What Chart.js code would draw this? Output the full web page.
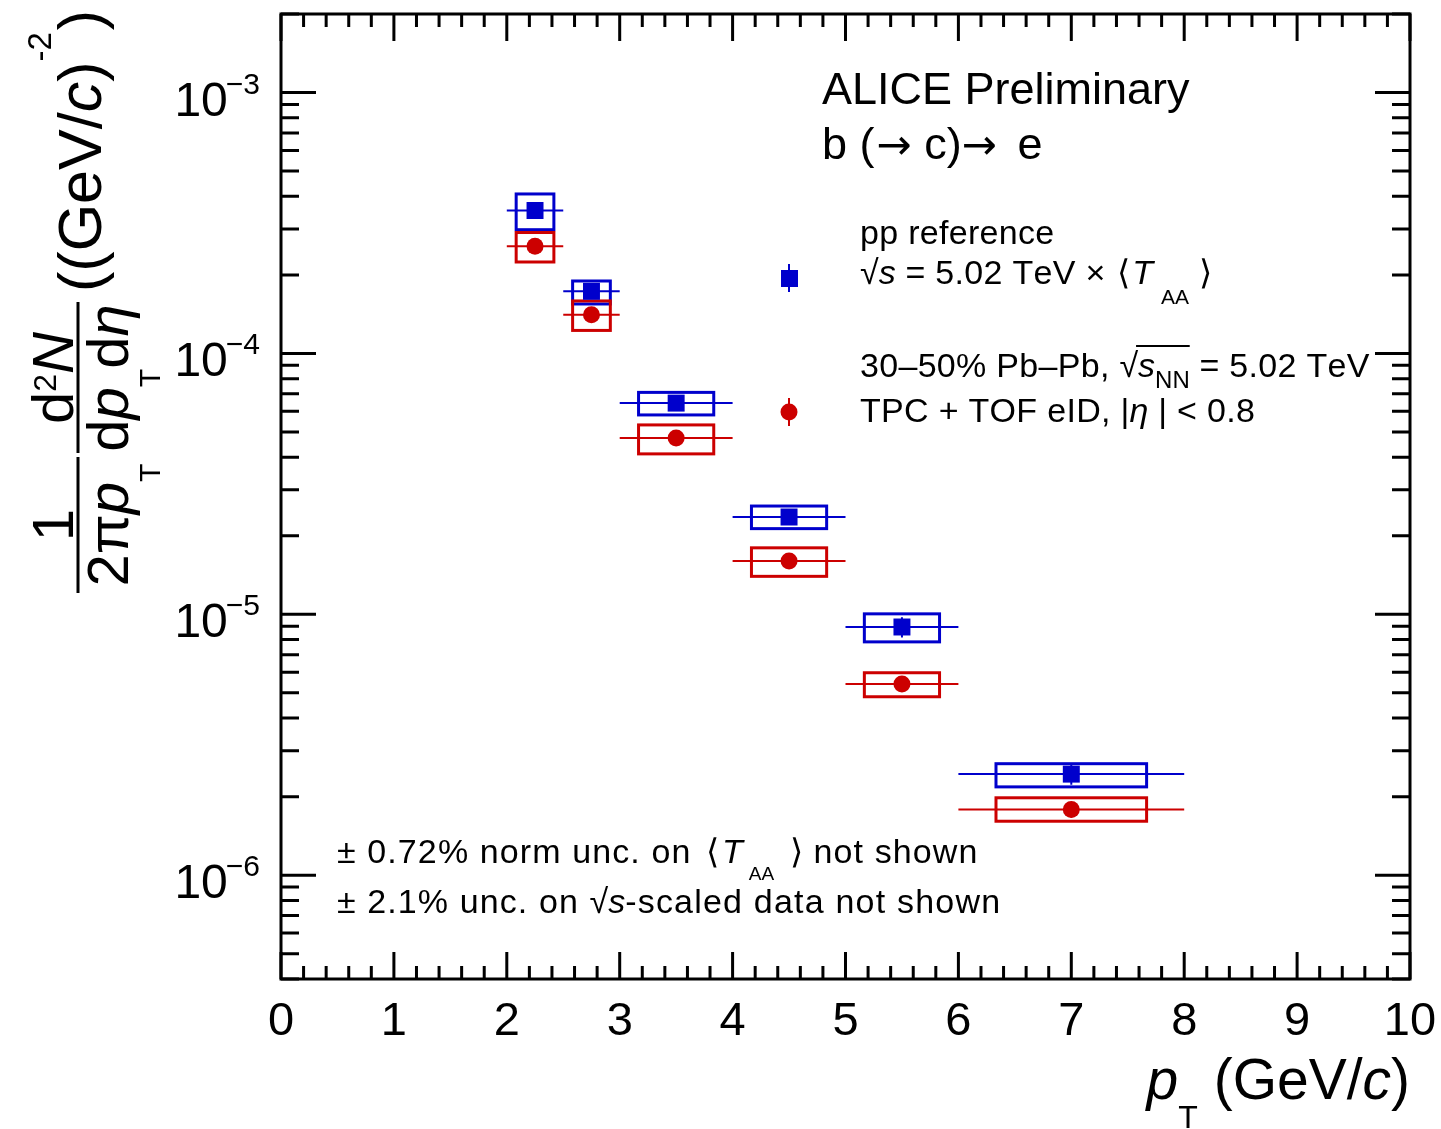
<!DOCTYPE html>
<html>
<head>
<meta charset="utf-8">
<script src="https://cdn.jsdelivr.net/npm/chart.js@4.4.0/dist/chart.umd.min.js"></script>
<style>
  html, body { margin: 0; padding: 0; background: #fff; }
  #wrap { width: 1441px; height: 1129px; }
</style>
</head>
<body>
<div id="wrap"><canvas id="spectrum" width="1441" height="1129"></canvas></div>
<script>
// pT bins (GeV/c)
const ptCenters = [2.25, 2.75, 3.5, 4.5, 5.5, 7];
const ptLow = [2, 2.5, 3, 4, 5, 6];
const ptHigh = [2.5, 3, 4, 5, 6, 8];
// half width of the systematic boxes (GeV/c)
const sysHalfWidth = [0.167, 0.167, 0.333, 0.333, 0.333, 0.667];

// pp reference scaled by <TAA>
const ppYield = [3.53e-4, 1.73e-4, 6.45e-5, 2.36e-5, 8.94e-6, 2.44e-6];
const ppStat = [1.1e-5, 5.0e-6, 2.6e-6, 1.2e-6, 0.8e-6, 0.22e-6];
const ppSysLow = [2.98e-4, 1.547e-4, 5.81e-5, 2.13e-5, 7.84e-6, 2.18e-6];
const ppSysHigh = [4.085e-4, 1.895e-4, 7.09e-5, 2.60e-5, 1.004e-5, 2.675e-6];

// 30-50% Pb-Pb
const pbpbYield = [2.577e-4, 1.407e-4, 4.74e-5, 1.60e-5, 5.41e-6, 1.785e-6];
const pbpbStat = [1.0e-5, 5.6e-6, 2.4e-6, 0.8e-6, 0.32e-6, 0.12e-6];
const pbpbSysLow = [2.241e-4, 1.225e-4, 4.12e-5, 1.398e-5, 4.83e-6, 1.61e-6];
const pbpbSysHigh = [2.907e-4, 1.589e-4, 5.32e-5, 1.798e-5, 5.97e-6, 1.98e-6];

// axis ticks
const xTickLabels = ['0', '1', '2', '3', '4', '5', '6', '7', '8', '9', '10'];
const yTickExponents = [-3, -4, -5, -6];

const BLUE = '#0000cc';
const RED = '#cc0000';
const FONT = '"Liberation Sans", Arial, Helvetica, sans-serif';
const ARROW_FONT = '"DejaVu Sans", sans-serif';

function font(size, italic, fam) {
  return (italic ? 'italic ' : '') + size + 'px ' + (fam || FONT);
}

// width of one text piece, with optional extra letter spacing
function pieceWidth(ctx, p) {
  ctx.font = font(p.s, p.it, p.fam);
  const ls = p.ls || 0;
  if (!ls) return ctx.measureText(p.t).width + (p.dx || 0);
  let w = 0;
  for (const ch of p.t) w += ctx.measureText(ch).width + ls;
  return w + (p.dx || 0);
}

// draws a run of text pieces: {t, s, it, dy, dx, ls, fam, over}
function rich(ctx, x, y, parts, align) {
  const widths = parts.map(p => pieceWidth(ctx, p));
  const total = widths.reduce((a, b) => a + b, 0);
  let cx = align === 'right' ? x - total : align === 'center' ? x - total / 2 : x;
  let overStart = null, overEnd = null, overY = null;
  parts.forEach((p, i) => {
    ctx.font = font(p.s, p.it, p.fam);
    const x0 = cx + (p.dx || 0);
    if (p.ls) {
      let px = x0;
      for (const ch of p.t) {
        ctx.fillText(ch, px, y + (p.dy || 0));
        px += ctx.measureText(ch).width + p.ls;
      }
    } else {
      ctx.fillText(p.t, x0, y + (p.dy || 0));
    }
    if (p.over) {
      if (overStart === null) overStart = x0;
      overEnd = cx + widths[i];
      overY = y - p.over;
    }
    cx += widths[i];
  });
  if (overStart !== null) {
    ctx.save();
    ctx.lineWidth = 2;
    ctx.beginPath();
    ctx.moveTo(overStart - 2, overY);
    ctx.lineTo(overEnd, overY);
    ctx.stroke();
    ctx.restore();
  }
  return total;
}

function buildPoints(ys) {
  return ptCenters.map((x, i) => ({ x: x, y: ys[i] }));
}

// systematic boxes and statistical bars
const errorBars = {
  id: 'errorBars',
  beforeDatasetsDraw(chart) {
    const { ctx, chartArea: a, scales: { x, y } } = chart;
    const sets = [
      { yv: ppYield, st: ppStat, lo: ppSysLow, hi: ppSysHigh, c: BLUE },
      { yv: pbpbYield, st: pbpbStat, lo: pbpbSysLow, hi: pbpbSysHigh, c: RED }
    ];
    ctx.save();
    ctx.beginPath();
    ctx.rect(a.left, a.top, a.right - a.left, a.bottom - a.top);
    ctx.clip();
    for (const s of sets) {
      ctx.strokeStyle = s.c;
      for (let i = 0; i < ptCenters.length; i++) {
        const x0 = x.getPixelForValue(ptCenters[i] - sysHalfWidth[i]);
        const x1 = x.getPixelForValue(ptCenters[i] + sysHalfWidth[i]);
        const yTop = y.getPixelForValue(s.hi[i]);
        const yBot = y.getPixelForValue(s.lo[i]);
        ctx.lineWidth = 3;
        ctx.strokeRect(x0, yTop, x1 - x0, yBot - yTop);

        const xc = x.getPixelForValue(ptCenters[i]);
        const yc = y.getPixelForValue(s.yv[i]);
        ctx.lineWidth = 2;
        ctx.beginPath();
        ctx.moveTo(x.getPixelForValue(ptLow[i]), yc);
        ctx.lineTo(x.getPixelForValue(ptHigh[i]), yc);
        ctx.moveTo(xc, y.getPixelForValue(s.yv[i] + s.st[i]));
        ctx.lineTo(xc, y.getPixelForValue(s.yv[i] - s.st[i]));
        ctx.stroke();
      }
    }
    ctx.restore();
  }
};

// frame, inward ticks and tick labels
const frame = {
  id: 'frame',
  afterDraw(chart) {
    const { ctx, chartArea: a, scales: { x, y } } = chart;
    ctx.save();
    ctx.strokeStyle = '#000';
    ctx.fillStyle = '#000';
    ctx.lineWidth = 3;
    ctx.beginPath();
    for (let i = 0; i <= 50; i++) {
      const px = x.getPixelForValue(i / 5);
      const len = i % 5 === 0 ? 27 : 13;
      ctx.moveTo(px, a.bottom); ctx.lineTo(px, a.bottom - len);
      ctx.moveTo(px, a.top); ctx.lineTo(px, a.top + len);
    }
    for (let e = -7; e <= -3; e++) {
      for (let m = 1; m <= 9; m++) {
        const v = m * Math.pow(10, e);
        if (v < y.min * 0.999 || v > y.max * 1.001) continue;
        const py = y.getPixelForValue(v);
        const len = m === 1 ? 35 : 18;
        ctx.moveTo(a.left, py); ctx.lineTo(a.left + len, py);
        ctx.moveTo(a.right, py); ctx.lineTo(a.right - len, py);
      }
    }
    ctx.stroke();
    ctx.strokeRect(a.left, a.top, a.right - a.left, a.bottom - a.top);

    // x tick labels
    ctx.textAlign = 'center';
    ctx.textBaseline = 'alphabetic';
    ctx.font = font(47);
    xTickLabels.forEach((t, i) => {
      ctx.fillText(t, x.getPixelForValue(i), 1035);
    });

    // y tick labels 10^n
    ctx.textAlign = 'left';
    yTickExponents.forEach(e => {
      const py = y.getPixelForValue(Math.pow(10, e));
      ctx.font = font(30);
      const sup = '\u2212' + (-e);
      const sw = ctx.measureText(sup).width;
      ctx.fillText(sup, 260 - sw, py + 1);
      ctx.font = font(48);
      const bw = ctx.measureText('10').width;
      ctx.fillText('10', 260 - sw - bw + 2, py + 23);
    });
    ctx.restore();
  }
};

// axis titles, labels and legend
const annotations = {
  id: 'annotations',
  afterDraw(chart) {
    const { ctx } = chart;
    ctx.save();
    ctx.fillStyle = '#000';
    ctx.strokeStyle = '#000';
    ctx.textAlign = 'left';
    ctx.textBaseline = 'alphabetic';

    // x title
    rich(ctx, 1410, 1099, [
      { t: 'p', s: 57, it: true },
      { t: 'T', s: 32, dy: 29 },
      { t: ' (GeV/', s: 57 },
      { t: 'c', s: 57, it: true },
      { t: ')', s: 57 }
    ], 'right');

    // y title, rotated; local (u, w) -> page (w, -u)
    ctx.save();
    ctx.rotate(-Math.PI / 2);
    ctx.fillRect(-593, 76.5, 136, 3);
    rich(ctx, -525, 73, [{ t: '1', s: 58 }], 'center');
    rich(ctx, -525, 128, [
      { t: '2\u03c0', s: 58 },
      { t: 'p', s: 58, it: true },
      { t: 'T', s: 30, dy: 32 }
    ], 'center');
    ctx.fillRect(-453, 76.5, 151, 3);
    rich(ctx, -378, 73, [
      { t: 'd', s: 58 },
      { t: '2', s: 32, dy: -17 },
      { t: 'N', s: 58, it: true }
    ], 'center');
    rich(ctx, -378, 128, [
      { t: 'd', s: 58 },
      { t: 'p', s: 58, it: true },
      { t: 'T', s: 30, dy: 32 },
      { t: 'd', s: 58 },
      { t: '\u03b7', s: 58, it: true }
    ], 'center');
    rich(ctx, -292, 101, [
      { t: '((GeV/', s: 61 },
      { t: 'c', s: 61, it: true },
      { t: ')', s: 61 },
      { t: '-2', s: 33, dy: -50 },
      { t: ')', s: 61, dx: 2 }
    ]);
    ctx.restore();

    // header
    rich(ctx, 822, 104, [{ t: 'ALICE Preliminary', s: 45 }]);
    rich(ctx, 822, 159, [
      { t: 'b (', s: 45 },
      { t: '\u2192', s: 42, fam: ARROW_FONT, dx: 2 },
      { t: ' c)', s: 45 },
      { t: '\u2192', s: 42, fam: ARROW_FONT },
      { t: ' e', s: 45, dx: 8 }
    ]);

    // legend entries
    rich(ctx, 860, 244, [{ t: 'pp reference', s: 34, ls: 0.3 }]);
    rich(ctx, 860, 284, [
      { t: '\u221a', s: 34 },
      { t: 's', s: 34, it: true },
      { t: ' = 5.02 TeV \u00d7 ', s: 34, ls: 0.3 },
      { t: '\u27e8', s: 34, dx: 2 },
      { t: 'T', s: 34, it: true, dx: 2 },
      { t: 'AA', s: 21, dy: 20, dx: 8 },
      { t: '\u27e9', s: 34, dx: 10 }
    ]);
    rich(ctx, 860, 377, [
      { t: '30\u201350% Pb\u2013Pb, ', s: 34, ls: 0.3 },
      { t: '\u221a', s: 34 },
      { t: 's', s: 34, it: true, over: 31 },
      { t: 'NN', s: 24, dy: 11, over: 31 },
      { t: ' = 5.02 TeV', s: 34, ls: 0.3 }
    ]);
    rich(ctx, 860, 422, [
      { t: 'TPC + TOF eID, |', s: 34, ls: 0.3 },
      { t: '\u03b7', s: 34, it: true },
      { t: ' | < 0.8', s: 34, ls: 0.3 }
    ]);

    // legend markers with stat bars
    ctx.lineWidth = 2;
    ctx.strokeStyle = BLUE;
    ctx.fillStyle = BLUE;
    ctx.beginPath(); ctx.moveTo(789, 264); ctx.lineTo(789, 292); ctx.stroke();
    ctx.fillRect(781, 270, 17, 17);
    ctx.strokeStyle = RED;
    ctx.fillStyle = RED;
    ctx.beginPath(); ctx.moveTo(789, 398); ctx.lineTo(789, 426); ctx.stroke();
    ctx.beginPath(); ctx.arc(789, 412, 8.5, 0, Math.PI * 2); ctx.fill();

    // normalisation notes
    ctx.fillStyle = '#000';
    rich(ctx, 337, 863, [
      { t: '\u00b1 0.72% norm unc. on ', s: 34, ls: 1.1 },
      { t: '\u27e8', s: 34, dx: 4 },
      { t: 'T', s: 34, it: true, dx: 3 },
      { t: 'AA', s: 19, dy: 17, dx: 6 },
      { t: '\u27e9', s: 34, dx: 16 },
      { t: ' not shown', s: 34, ls: 1.1 }
    ]);
    rich(ctx, 337, 913, [
      { t: '\u00b1 2.1% unc. on ', s: 34, ls: 1.1 },
      { t: '\u221a', s: 34 },
      { t: 's', s: 34, it: true },
      { t: '-scaled data not shown', s: 34, ls: 1.2 }
    ]);
    ctx.restore();
  }
};

new Chart(document.getElementById('spectrum'), {
  type: 'scatter',
  data: {
    datasets: [
      {
        label: 'pp reference',
        data: buildPoints(ppYield),
        pointStyle: 'rect',
        pointRadius: 12,
        pointBackgroundColor: BLUE,
        pointBorderWidth: 0,
        borderColor: BLUE
      },
      {
        label: '30-50% Pb-Pb',
        data: buildPoints(pbpbYield),
        pointStyle: 'circle',
        pointRadius: 8.5,
        pointBackgroundColor: RED,
        pointBorderWidth: 0,
        borderColor: RED
      }
    ]
  },
  options: {
    responsive: false,
    animation: false,
    layout: { padding: { left: 281, right: 31, top: 14, bottom: 150 } },
    plugins: {
      legend: { display: false },
      tooltip: { enabled: false }
    },
    scales: {
      x: { type: 'linear', min: 0, max: 10, display: false },
      y: { type: 'logarithmic', min: 4e-7, max: 2e-3, display: false }
    }
  },
  plugins: [errorBars, frame, annotations]
});
</script>
</body>
</html>
